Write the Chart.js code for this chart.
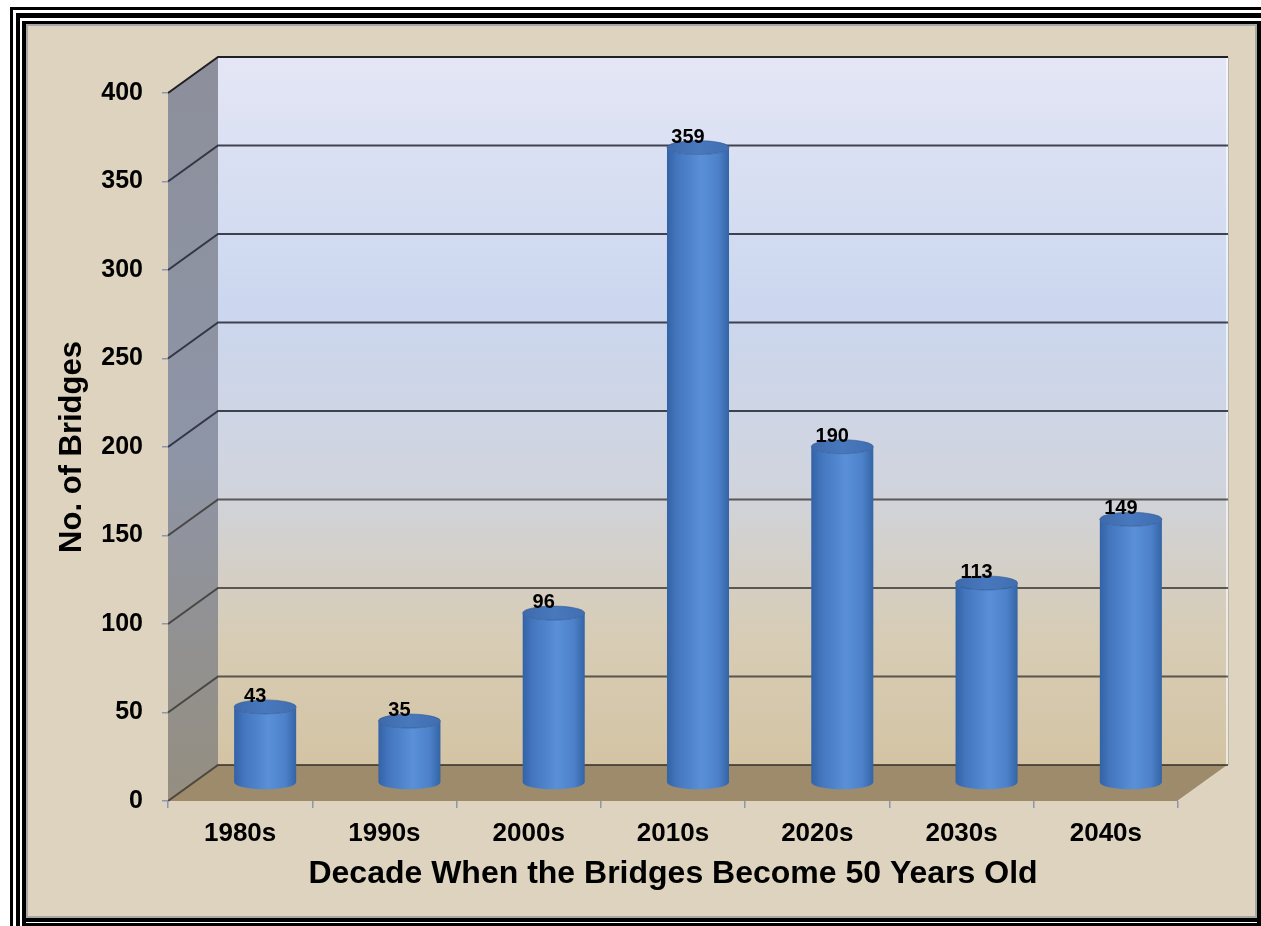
<!DOCTYPE html>
<html>
<head>
<meta charset="utf-8">
<script src="https://cdn.jsdelivr.net/npm/chart.js@4.4.1/dist/chart.umd.min.js"></script>
<style>
  html, body { margin: 0; padding: 0; background: #ffffff; }
  #wrap { position: relative; width: 1261px; height: 926px; }
  canvas { display: block; }
</style>
</head>
<body>
<div id="wrap"><canvas id="c" width="1261" height="926"></canvas></div>
<script>
// ---- data ----
const categories = ['1980s', '1990s', '2000s', '2010s', '2020s', '2030s', '2040s'];
const bridgeCounts = [43, 35, 96, 359, 190, 113, 149];
const yTicks = [0, 50, 100, 150, 200, 250, 300, 350, 400];
const xTitle = 'Decade When the Bridges Become 50 Years Old';
const yTitle = 'No. of Bridges';

// ---- 3D look ----
const DEPTH_X = 50, DEPTH_Y = -36;
const FONT = '"Liberation Sans", Arial, Helvetica, sans-serif';

const framePlugin = {
  id: 'frame3d',
  beforeDraw(chart) {
    const ctx = chart.ctx;
    const W = chart.width, H = chart.height;
    ctx.save();
    ctx.fillStyle = '#ffffff';
    ctx.fillRect(0, 0, W, H);
    ctx.fillStyle = '#000000';
    ctx.fillRect(10, 7, 3, H - 7); ctx.fillRect(10, 7, W - 10, 3);
    ctx.fillRect(16, 13, 4, H - 13); ctx.fillRect(16, 13, W - 16, 5);
    ctx.fillRect(22, 21, 4, H - 21); ctx.fillRect(22, 21, W - 22, 3);
    ctx.fillRect(1257, 21, 4, H - 21);
    ctx.fillRect(22, 918, W - 22, 4);
    ctx.fillRect(22, 923, W - 22, 3);
    ctx.fillStyle = '#a7a7a7';
    ctx.fillRect(26, 24, 1231, 894);
    ctx.fillStyle = '#ddd3bf';
    ctx.fillRect(28, 26, 1227, 890);

    const ys = chart.scales.y;
    const L = chart.chartArea.left, R = chart.chartArea.right;
    const y0 = ys.getPixelForValue(0);
    const yTop = ys.getPixelForValue(yTicks[yTicks.length - 1]);
    const bL = L + DEPTH_X, bR = R + DEPTH_X;
    const bTop = yTop + DEPTH_Y, bBot = y0 + DEPTH_Y;

    // back wall
    let g = ctx.createLinearGradient(0, bTop, 0, bBot);
    g.addColorStop(0, '#e4e6f5');
    g.addColorStop(0.35, '#cbd7ef');
    g.addColorStop(0.6, '#d0d4de');
    g.addColorStop(0.82, '#d7ccb5');
    g.addColorStop(1, '#d4c4a4');
    ctx.fillStyle = g;
    ctx.fillRect(bL, bTop, bR - bL, bBot - bTop);
    ctx.strokeStyle = 'rgba(255,255,255,0.6)';
    ctx.lineWidth = 2;
    ctx.beginPath(); ctx.moveTo(bR - 1, bTop); ctx.lineTo(bR - 1, bBot); ctx.stroke();
    ctx.strokeStyle = '#b9b6ae';
    ctx.lineWidth = 1;
    ctx.beginPath(); ctx.moveTo(bR + 0.5, bTop); ctx.lineTo(bR + 0.5, bBot); ctx.stroke();

    // side wall
    g = ctx.createLinearGradient(0, yTop, 0, y0);
    g.addColorStop(0, '#8d909c');
    g.addColorStop(0.5, '#8e95a7');
    g.addColorStop(1, '#958e80');
    ctx.fillStyle = g;
    ctx.beginPath();
    ctx.moveTo(L, yTop); ctx.lineTo(bL, bTop); ctx.lineTo(bL, bBot); ctx.lineTo(L, y0);
    ctx.closePath(); ctx.fill();

    // floor
    ctx.fillStyle = '#9d8b6b';
    ctx.beginPath();
    ctx.moveTo(L, y0); ctx.lineTo(bL, bBot); ctx.lineTo(bR, bBot); ctx.lineTo(R, y0);
    ctx.closePath(); ctx.fill();
    ctx.strokeStyle = 'rgba(230,222,205,0.7)';
    ctx.lineWidth = 1.5;
    ctx.beginPath(); ctx.moveTo(R, y0); ctx.lineTo(bR, bBot); ctx.stroke();

    // gridlines on side + back wall
    yTicks.forEach(v => {
      const py = ys.getPixelForValue(v);
      const top = v === yTicks[yTicks.length - 1];
      ctx.strokeStyle = top ? '#1f1f24' : (v >= 200 ? 'rgba(35,38,52,0.85)' : 'rgba(50,45,40,0.75)');
      ctx.lineWidth = 2;
      ctx.beginPath();
      ctx.moveTo(L, py);
      ctx.lineTo(bL, py + DEPTH_Y);
      ctx.lineTo(bR, py + DEPTH_Y);
      ctx.stroke();
    });
    ctx.restore();
  },
  afterDatasetsDraw(chart) {
    const ctx = chart.ctx;
    const meta = chart.getDatasetMeta(0);
    const ry = 7;
    ctx.save();
    meta.data.forEach((el, i) => {
      const p = el.getProps(['x', 'y', 'base', 'width'], true);
      const cx = p.x + DEPTH_X / 2;
      const rx = p.width / 2;
      const ty = p.y + DEPTH_Y / 2;
      const by = p.base + DEPTH_Y / 2;
      const g = ctx.createLinearGradient(cx - rx, 0, cx + rx, 0);
      g.addColorStop(0, '#3362a6');
      g.addColorStop(0.15, '#4275bd');
      g.addColorStop(0.55, '#5990d7');
      g.addColorStop(0.82, '#4d82ca');
      g.addColorStop(1, '#3464a6');
      ctx.fillStyle = g;
      ctx.beginPath();
      ctx.moveTo(cx - rx, ty);
      ctx.lineTo(cx - rx, by);
      ctx.ellipse(cx, by, rx, ry, 0, Math.PI, 0, true);
      ctx.lineTo(cx + rx, ty);
      ctx.ellipse(cx, ty, rx, ry, 0, 0, Math.PI, false);
      ctx.closePath();
      ctx.fill();
      const tg = ctx.createLinearGradient(cx - rx, 0, cx + rx, 0);
      tg.addColorStop(0, '#3e6aac');
      tg.addColorStop(0.5, '#4878bd');
      tg.addColorStop(1, '#416eb2');
      ctx.fillStyle = tg;
      ctx.beginPath();
      ctx.ellipse(cx, ty, rx, ry, 0, 0, Math.PI * 2);
      ctx.fill();
      ctx.strokeStyle = 'rgba(40,80,140,0.5)';
      ctx.lineWidth = 1;
      ctx.stroke();
      ctx.fillStyle = '#000000';
      ctx.font = 'bold 20px ' + FONT;
      ctx.textAlign = 'center';
      ctx.textBaseline = 'alphabetic';
      ctx.fillText(String(bridgeCounts[i]), p.x + 15, ty - ry + 2);
    });
    ctx.restore();
  }
};

new Chart(document.getElementById('c'), {
  type: 'bar',
  data: {
    labels: categories,
    datasets: [{
      data: bridgeCounts,
      backgroundColor: 'rgba(0,0,0,0)',
      borderWidth: 0,
      barPercentage: 0.43,
      categoryPercentage: 1.0
    }]
  },
  options: {
    responsive: false,
    animation: false,
    devicePixelRatio: 1,
    layout: { padding: { left: 0, top: 93, right: 83, bottom: 0 } },
    plugins: { legend: { display: false }, tooltip: { enabled: false } },
    scales: {
      x: {
        afterFit: s => { s.height = 125; },
        border: { display: false },
        grid: { display: true, drawOnChartArea: false, drawTicks: true, tickLength: 7, color: '#8c95ad', lineWidth: 1.5, offset: true },
        ticks: { color: '#000', font: { family: FONT, size: 26, weight: 'bold' }, padding: 10, maxRotation: 0 },
        title: { display: true, text: xTitle, color: '#000', font: { family: FONT, size: 32, weight: 'bold' }, padding: { top: 0, bottom: 33 } }
      },
      y: {
        min: 0, max: 400,
        afterFit: s => { s.width = 168; },
        border: { display: false },
        grid: { display: true, drawOnChartArea: false, drawTicks: true, tickLength: 6, color: '#8c95ad', lineWidth: 1.5 },
        afterBuildTicks: s => { s.ticks = yTicks.map(v => ({ value: v })); },
        ticks: { color: '#000', font: { family: FONT, size: 25, weight: 'bold' }, padding: 19 },
        title: { display: true, text: yTitle, color: '#000', font: { family: FONT, size: 31, weight: 'bold' }, padding: { top: 54, bottom: 0 } }
      }
    }
  },
  plugins: [framePlugin]
});
</script>
</body>
</html>
